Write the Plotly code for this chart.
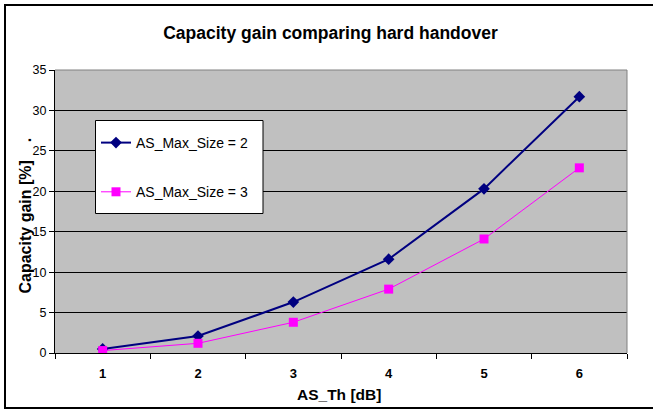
import plotly.graph_objects as go

categories = ["1", "2", "3", "4", "5", "6"]
size2 = [0.5, 2.1, 6.3, 11.6, 20.3, 31.7]
size3 = [0.3, 1.2, 3.8, 7.9, 14.1, 22.9]
series_names = ["AS_Max_Size = 2", "AS_Max_Size = 3"]

FONT = "Liberation Sans, Arial, sans-serif"

fig = go.Figure()
fig.add_trace(go.Scatter(
    x=categories, y=size2, name=series_names[0], mode="lines+markers",
    line=dict(color="#000080", width=2),
    marker=dict(symbol="diamond", size=9, color="#000080"),
    legendgroup="a",
))
fig.add_trace(go.Scatter(
    x=categories, y=size3, name=series_names[1], mode="lines+markers",
    line=dict(color="#FF00FF", width=1),
    marker=dict(symbol="square", size=9, color="#FF00FF"),
    legendgroup="b",
))

L, R, T, B = 55, 627, 70, 353
W, H = 653, 410
pw, ph = R - L, B - T

def px2x(px):
    return (px - L) / pw

def px2y(py):
    return (B - py) / ph

fig.update_layout(
    width=W, height=H,
    margin=dict(l=L, r=W - R, t=T, b=H - B, pad=0),
    paper_bgcolor="white",
    plot_bgcolor="#C0C0C0",
    font=dict(family=FONT, size=12, color="black"),
    title=dict(text="<b>Capacity gain comparing hard handover</b>",
               x=330.5 / W, xanchor="center", y=1 - 33 / H, yanchor="middle",
               font=dict(size=17.5, color="black")),
    showlegend=True,
    legend=dict(x=px2x(96), y=px2y(127), xanchor="left", yanchor="top",
                bgcolor="rgba(0,0,0,0)", borderwidth=0,
                font=dict(size=14, color="black"),
                tracegroupgap=28, itemwidth=30),
    xaxis=dict(
        type="category", range=[-0.5, 5.5],
        tickson="boundaries", ticks="outside", ticklen=5, tickcolor="black",
        showline=True, linecolor="black", linewidth=1, mirror=False,
        showgrid=False, zeroline=False,
        ticklabelstandoff=8,
        tickfont=dict(size=13, family=FONT, color="black", weight="bold"),
    ),
    yaxis=dict(
        range=[0, 35], dtick=5, tick0=0,
        ticks="outside", ticklen=5, tickcolor="black",
        showline=True, linecolor="black", linewidth=1,
        showgrid=True, gridcolor="#000000", gridwidth=1,
        zeroline=False,
        tickfont=dict(size=12.5, color="black"),
    ),
    shapes=[
        dict(type="line", xref="paper", yref="paper",
             x0=0, x1=1, y0=1, y1=1, line=dict(color="#808080", width=1)),
        dict(type="line", xref="paper", yref="paper",
             x0=1, x1=1, y0=0, y1=1, line=dict(color="#808080", width=1)),
        dict(type="rect", xref="paper", yref="paper",
             x0=px2x(5), x1=px2x(720), y0=px2y(408), y1=px2y(5),
             line=dict(color="black", width=2), layer="below"),
        dict(type="rect", xref="paper", yref="paper",
             x0=px2x(95.5), x1=px2x(263), y0=px2y(213.5), y1=px2y(120.5),
             line=dict(color="black", width=1), fillcolor="white", layer="above"),
    ],
    annotations=[
        dict(text="<b>Capacity gain [%]\u00a0\u00a0\u00a0\u00a0.</b>", xref="paper", yref="paper",
             x=px2x(24.5), y=px2y(216), xanchor="center", yanchor="middle",
             showarrow=False, textangle=-90,
             font=dict(size=16, color="black")),
        dict(text="<b>AS_Th [dB]</b>", xref="paper", yref="paper",
             x=px2x(339), y=px2y(394), xanchor="center", yanchor="middle",
             showarrow=False, font=dict(size=15.5, color="black")),
    ],
)

fig.write_html("out.html")
